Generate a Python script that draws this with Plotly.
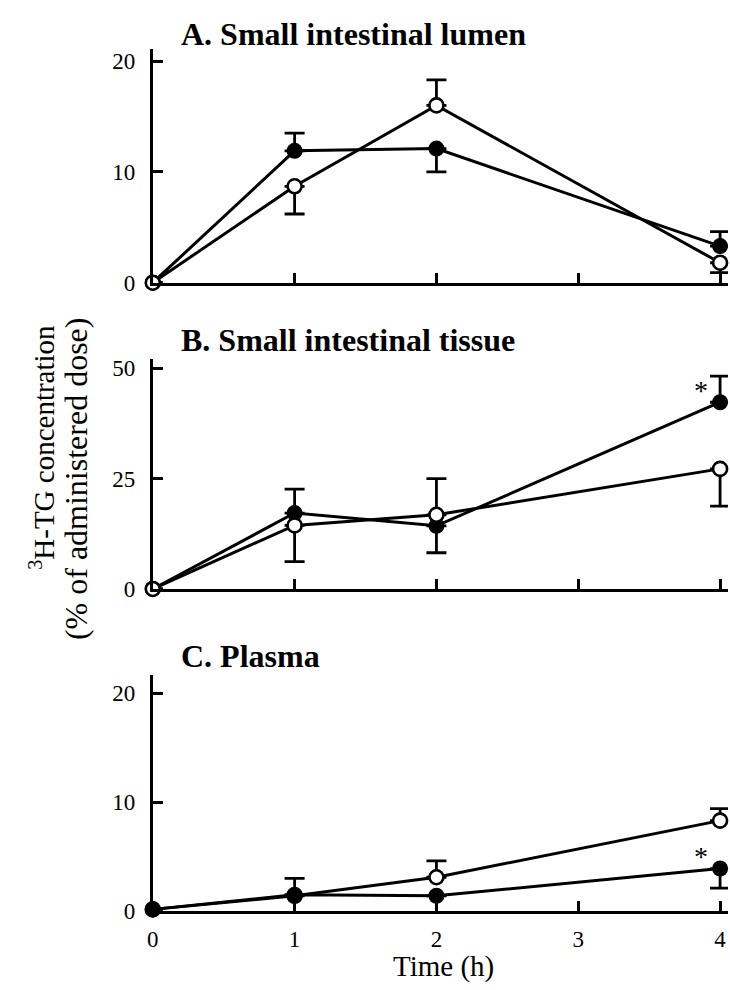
import plotly.graph_objects as go

# ---- data -------------------------------------------------------------
time_h = [0, 1, 2, 4]
x_tick_vals = [0, 1, 2, 3, 4]

# A. small intestinal lumen (% of administered dose)
lumen_filled = [0, 11.9, 12.1, 3.3]
lumen_filled_up = [None, 1.6, None, 1.3]
lumen_filled_down = [None, None, 2.1, None]
lumen_open = [0, 8.7, 16.0, 1.8]
lumen_open_up = [None, None, 2.3, None]
lumen_open_down = [None, 2.5, None, 0.9]

# B. small intestinal tissue
tissue_filled = [0, 17.2, 14.3, 42.3]
tissue_filled_up = [None, 5.4, None, 5.9]
tissue_filled_down = [None, None, 6.1, None]
tissue_open = [0, 14.4, 16.8, 27.2]
tissue_open_up = [None, None, 8.2, None]
tissue_open_down = [None, 8.2, None, 8.45]

# C. plasma
plasma_filled = [0.15, 1.5, 1.4, 3.9]
plasma_filled_up = [None, 1.5, None, None]
plasma_filled_down = [None, None, None, 1.8]
plasma_open = [0.15, 1.4, 3.1, 8.3]
plasma_open_up = [None, None, 1.5, 1.1]
plasma_open_down = [None, None, None, None]

lumen_ticks = [0, 10, 20]
tissue_ticks = [0, 25, 50]
plasma_ticks = [0, 10, 20]

y_title_lines = ["<sup>3</sup>H-TG concentration", "(% of administered dose)"]
x_title = "Time (h)"

# ---- layout helpers ---------------------------------------------------
W, H = 730, 990
FONT = "Liberation Serif"
X0_PX, X1_PX = 148, 728
X_RANGE = [0, 4.056]


def ydom(bottom_px, top_px):
    return [1 - bottom_px / H, 1 - top_px / H]


panels = [
    dict(key="", title="A. Small intestinal lumen", title_y=32,
         dom=ydom(285, 47.6), yrange=[0, 21.1], ticks=lumen_ticks,
         series=[(lumen_filled, lumen_filled_up, lumen_filled_down, True),
                 (lumen_open, lumen_open_up, lumen_open_down, False)],
         stars=[], xlabels=False),
    dict(key="2", title="B. Small intestinal tissue", title_y=343,
         dom=ydom(596, 362), yrange=[0, 52.2], ticks=tissue_ticks,
         series=[(tissue_filled, tissue_filled_up, tissue_filled_down, True),
                 (tissue_open, tissue_open_up, tissue_open_down, False)],
         stars=[(4, tissue_filled[3])], xlabels=False),
    dict(key="3", title="C. Plasma", title_y=664,
         dom=ydom(923, 683), yrange=[0, 21.7], ticks=plasma_ticks,
         series=[(plasma_open, plasma_open_up, plasma_open_down, False),
                 (plasma_filled, plasma_filled_up, plasma_filled_down, True)],
         stars=[(4, plasma_filled[3])], xlabels=True),
]

fig = go.Figure()
annotations = []

axis_common = dict(
    showline=True, linewidth=3, linecolor="black",
    ticks="inside", ticklen=10, tickwidth=2.5, tickcolor="black",
    showgrid=False, zeroline=False,
    tickfont=dict(family=FONT, size=23, color="black"),
)

for p in panels:
    k = p["key"]
    for yvals, up, down, filled in p["series"]:
        fig.add_trace(go.Scatter(
            x=time_h, y=yvals, xaxis="x" + k, yaxis="y" + k,
            mode="lines+markers", cliponaxis=False, showlegend=False,
            line=dict(color="black", width=3),
            marker=dict(size=16 if filled else 14,
                        color="black" if filled else "white",
                        line=dict(color="black", width=0 if filled else 2.6)),
            error_y=dict(type="data", symmetric=False, array=up,
                         arrayminus=down, color="black", thickness=2.8,
                         width=10),
        ))

    fig.update_layout({
        "xaxis" + k: dict(axis_common, domain=[X0_PX / W, X1_PX / W],
                          range=X_RANGE, tickvals=x_tick_vals,
                          showticklabels=p["xlabels"], anchor="y" + k,
                          ticklabelstandoff=5),
        "yaxis" + k: dict(axis_common, domain=p["dom"], range=p["yrange"],
                          tickvals=p["ticks"], anchor="x" + k,
                          ticklabelstandoff=10),
    })

    annotations.append(dict(
        text="<b>" + p["title"] + "</b>", xref="paper", yref="paper",
        x=174 / W, y=1 - p["title_y"] / H, xanchor="left", yanchor="middle",
        showarrow=False, font=dict(family=FONT, size=32, color="black"),
    ))

    for sx, sy in p["stars"]:
        annotations.append(dict(
            text="*", xref="x" + k, yref="y" + k, x=sx, y=sy,
            xshift=-19, yshift=12, showarrow=False,
            font=dict(family=FONT, size=28, color="black"),
        ))

# rotated two-line axis title, one annotation per line
for line_text, cx, cy, fs in zip(y_title_lines, [36, 70], [452, 484], [29, 32]):
    annotations.append(dict(
        text=line_text, xref="paper", yref="paper", x=cx / W, y=1 - cy / H,
        xanchor="center", yanchor="middle", textangle=-90, showarrow=False,
        font=dict(family=FONT, size=fs, color="black"),
    ))

annotations.append(dict(
    text=x_title, xref="paper", yref="paper", x=441 / W, y=1 - 979 / H,
    xanchor="center", yanchor="middle", showarrow=False,
    font=dict(family=FONT, size=29, color="black"),
))

fig.update_layout(
    width=W, height=H, margin=dict(l=0, r=0, t=0, b=0),
    paper_bgcolor="white", plot_bgcolor="white",
    annotations=annotations,
)

fig.write_html("out.html", config={"displayModeBar": False})
